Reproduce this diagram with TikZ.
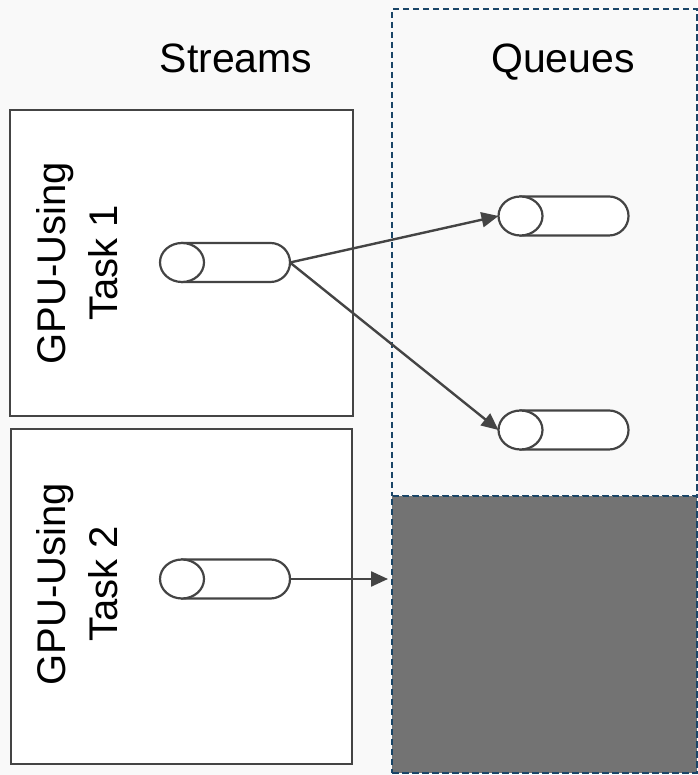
\documentclass[tikz,border=0pt]{standalone}
\usepackage{fontspec}
\setmainfont{Liberation Sans}
\usetikzlibrary{arrows.meta}
\definecolor{bg}{HTML}{F9F9F9}
\definecolor{edge}{HTML}{444444}
\definecolor{navy}{HTML}{1A4567}
\definecolor{shade}{HTML}{737373}
\newcommand\drawcyl[1]{%
  \path[cylline] ([xshift=22pt]#1.north west) -- ([xshift=-19.5pt]#1.north east)
    arc[start angle=90,end angle=-90,radius=19.5pt]
    -- ([xshift=22pt]#1.south west) -- cycle;
  \path[cylline] ([xshift=22pt]#1.west) ellipse[x radius=22pt, y radius=19.5pt];}
\begin{document}
\begin{tikzpicture}[x=1pt,y=1pt,
  taskbox/.style={draw=edge, line width=2.4pt, fill=white, inner sep=0pt, anchor=south west},
  tasklabel/.style={rotate=90, align=center, font=\fontsize{40}{52}\selectfont},
  header/.style={font=\fontsize{41}{48}\selectfont, anchor=base},
  cylbox/.style={minimum width=130pt, minimum height=39pt, inner sep=0pt, outer sep=0pt},
  cylline/.style={draw=edge, line width=2.2pt, fill=white},
  conn/.style={draw=edge, line width=2.4pt, -{Triangle[length=17pt,width=15pt]}},
  region/.style={draw=navy, line width=2pt, dash pattern=on 6.5pt off 3.5pt, inner sep=0pt, anchor=south west}]
\path[use as bounding box, fill=bg] (0,0) rectangle (697,775);
% queue region
\node[region, fill=bg, minimum width=305pt, minimum height=487pt] (qarea) at (391,278) {};
\node[region, fill=shade, minimum width=305pt, minimum height=277pt] (busy) at (391,1) {};
% headers
\node[header] (lstreams) at (236,702) {Streams};
\node[header] (lqueues) at (563,702) {Queues};
% task boxes
\node[taskbox, minimum width=343pt, minimum height=306pt] (t1) at (9,358) {};
\node[taskbox, minimum width=341pt, minimum height=335pt] (t2) at (10,10) {};
\node[tasklabel] (l1) at (77,512) {GPU-Using\\Task 1};
\node[tasklabel] (l2) at (77,191) {GPU-Using\\Task 2};
% cylinders
\node[cylbox] (s1) at (225,512.5) {};
\node[cylbox] (s2) at (225,196) {};
\node[cylbox] (q1) at (563.5,559) {};
\node[cylbox] (q2) at (563.5,345) {};
\drawcyl{s1}\drawcyl{s2}\drawcyl{q1}\drawcyl{q2}
\coordinate (gate) at (388,196);
% connectors
\draw[conn] (s1.east) -- (q1.west);
\draw[conn] (s1.east) -- (q2.west);
\draw[conn] (s2.east) -- (gate);
\end{tikzpicture}
\end{document}
